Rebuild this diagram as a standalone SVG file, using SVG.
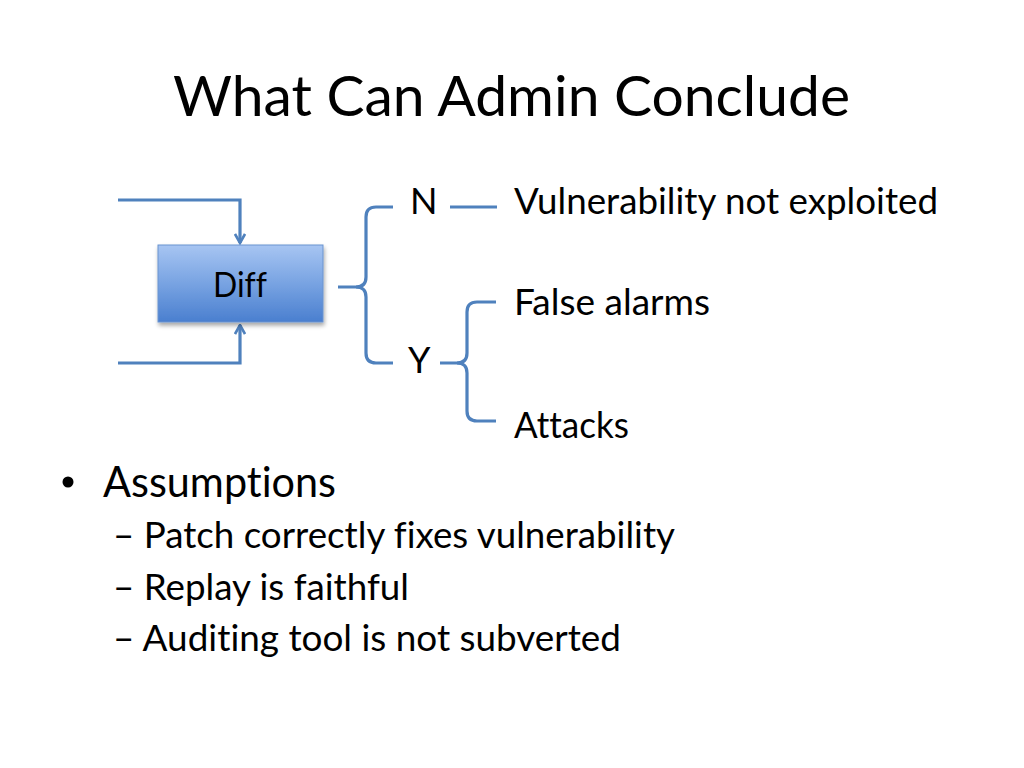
<svg xmlns="http://www.w3.org/2000/svg" width="1024" height="768" viewBox="0 0 1024 768">
  <defs>
    <linearGradient id="boxGrad" x1="0" y1="0" x2="0" y2="1">
      <stop offset="0" stop-color="#a7c5f2"/>
      <stop offset="0.5" stop-color="#78a3e2"/>
      <stop offset="1" stop-color="#4a7fcf"/>
    </linearGradient>
    <filter id="shadow" x="-10%" y="-10%" width="130%" height="140%">
      <feDropShadow dx="1" dy="3" stdDeviation="2" flood-color="#000" flood-opacity="0.35"/>
    </filter>
    <marker id="arrow" viewBox="0 0 12 12" refX="10.5" refY="6" markerWidth="12" markerHeight="12" markerUnits="userSpaceOnUse" orient="auto">
      <path d="M1.5,1 L10.5,6 L1.5,11" fill="none" stroke="#4f81bd" stroke-width="2.6" stroke-linejoin="miter"/>
    </marker>
    <style>
      .t { font-family: Lato, "Liberation Sans", sans-serif; fill: #000; font-variant-ligatures: none; font-feature-settings: "liga" 0, "clig" 0; }
      .line { fill: none; stroke: #4f81bd; stroke-width: 3.2; stroke-linecap: butt; }
      .body { font-size: 36px; }
      .sub { font-size: 36px; }
    </style>
  </defs>
  <rect width="1024" height="768" fill="#fff"/>

  <text class="t" x="173" y="116" font-size="56" textLength="677" lengthAdjust="spacingAndGlyphs">What Can Admin Conclude</text>

  <g id="connectors">
    <path class="line" d="M118,200 H240 V243" marker-end="url(#arrow)"/>
    <path class="line" d="M118,363 H240 V325" marker-end="url(#arrow)"/>
    <path class="line" d="M393,207 H376 Q366,207 366,217 V277 Q366,287 356,287 H338"/>
    <path class="line" d="M356,287 Q366,287 366,297 V353 Q366,363 376,363 H393"/>
    <path class="line" d="M450,207 H497"/>
    <path class="line" d="M496,302 H477 Q467,302 467,312 V353 Q467,363 457,363 H440"/>
    <path class="line" d="M457,363 Q467,363 467,373 V411 Q467,421 477,421 H496"/>
  </g>

  <g id="diff">
    <rect x="158" y="245" width="165" height="77" fill="url(#boxGrad)" stroke="#6a93cf" stroke-width="1" filter="url(#shadow)"/>
    <text class="t" x="240" y="297" font-size="34" text-anchor="middle" textLength="54" lengthAdjust="spacingAndGlyphs">Diff</text>
  </g>

  <g id="n">
    <text class="t body" x="410" y="214">N</text>
  </g>
  <g id="y">
    <text class="t body" x="408" y="373">Y</text>
  </g>
  <g id="not-exploited">
    <text class="t body" x="514" y="214" textLength="424" lengthAdjust="spacingAndGlyphs">Vulnerability not exploited</text>
  </g>
  <g id="false-alarms">
    <text class="t body" x="514" y="315" textLength="196" lengthAdjust="spacingAndGlyphs">False alarms</text>
  </g>
  <g id="attacks">
    <text class="t body" x="514" y="438" textLength="115" lengthAdjust="spacingAndGlyphs">Attacks</text>
  </g>

  <g id="bullets">
    <circle cx="68" cy="482" r="5.5" fill="#000"/>
    <text class="t" x="103" y="497" font-size="42" textLength="233" lengthAdjust="spacingAndGlyphs">Assumptions</text>
    <text class="t sub" x="113" y="548" textLength="562" lengthAdjust="spacingAndGlyphs">– Patch correctly fixes vulnerability</text>
    <text class="t sub" x="113" y="600" textLength="296" lengthAdjust="spacingAndGlyphs">– Replay is faithful</text>
    <text class="t sub" x="113" y="651" textLength="508" lengthAdjust="spacingAndGlyphs">– Auditing tool is not subverted</text>
  </g>
</svg>
